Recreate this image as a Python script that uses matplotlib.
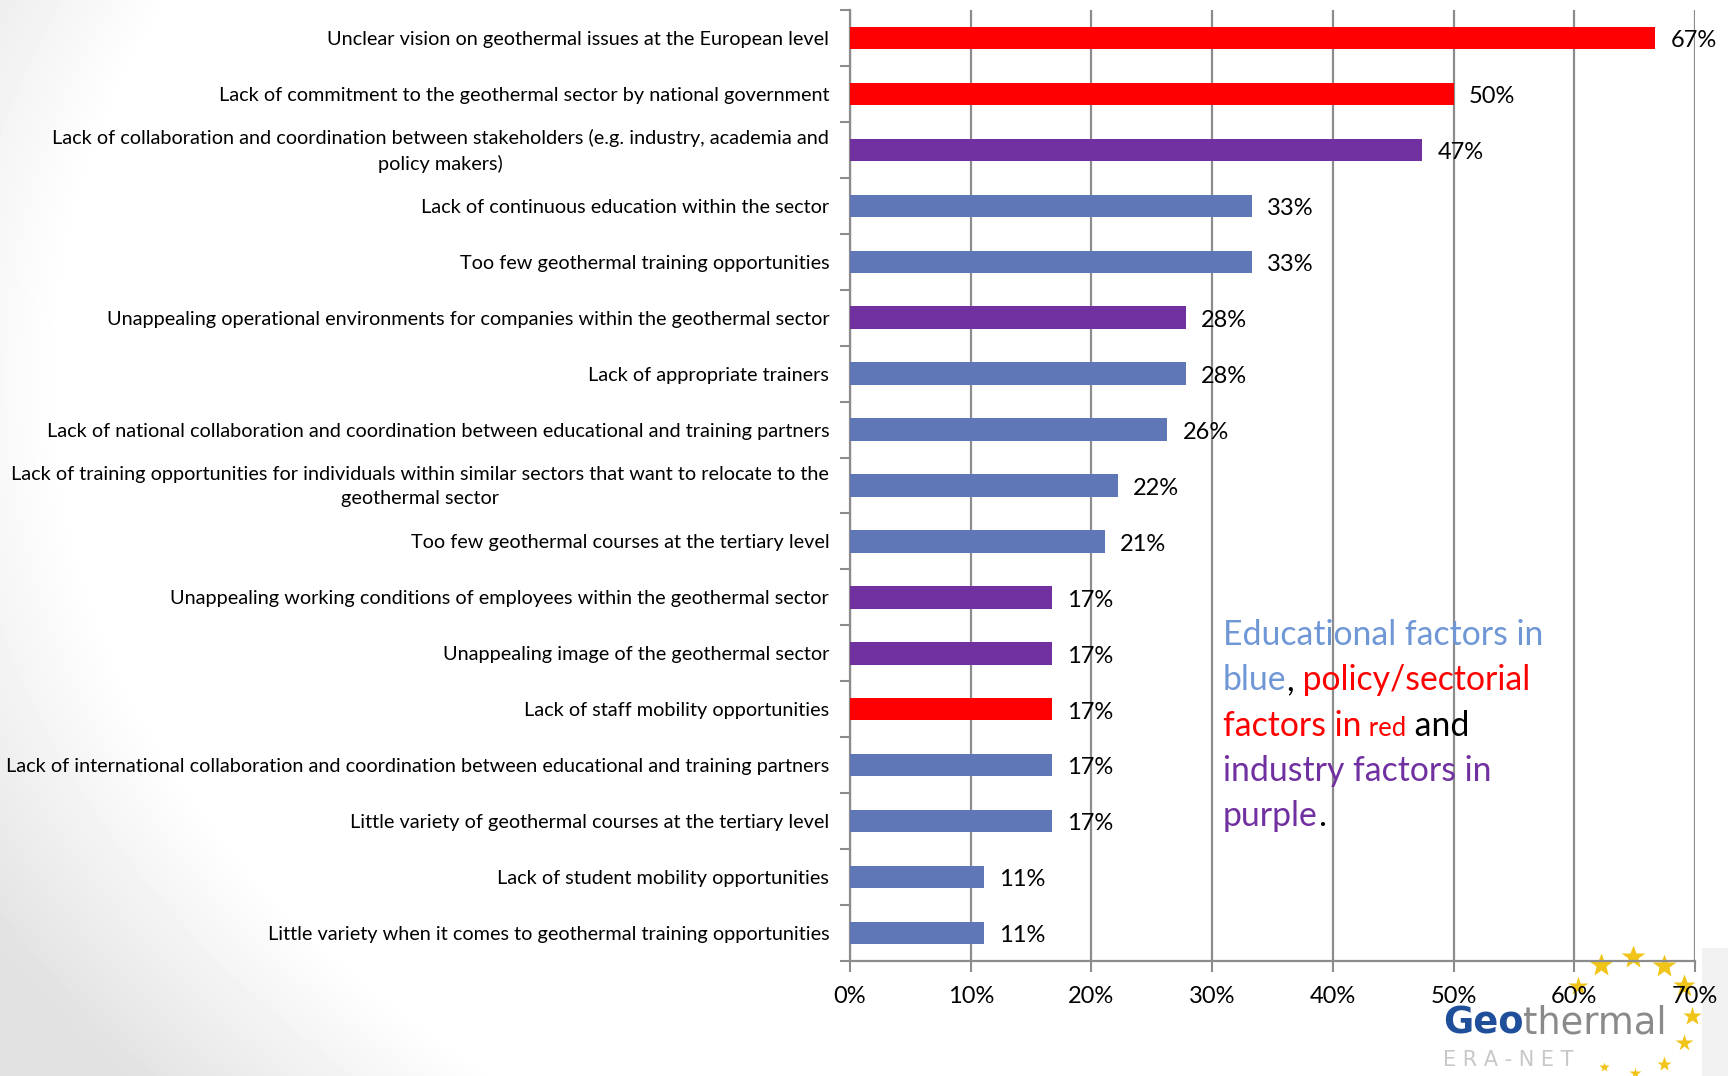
import numpy as np
import matplotlib
matplotlib.use("Agg")
import matplotlib.pyplot as plt
from matplotlib.patches import Rectangle
from matplotlib.offsetbox import TextArea, HPacker, AnnotationBbox
import matplotlib.transforms as mtransforms

# survey answers, top to bottom
categories = [
    "Unclear vision on geothermal issues at the European level",
    "Lack of commitment to the geothermal sector by national government",
    "Lack of collaboration and coordination between stakeholders (e.g. industry, academia and\npolicy makers)",
    "Lack of continuous education within the sector",
    "Too few geothermal training opportunities",
    "Unappealing operational environments for companies within the geothermal sector",
    "Lack of appropriate trainers",
    "Lack of national collaboration and coordination between educational and training partners",
    "Lack of training opportunities for individuals within similar sectors that want to relocate to the\ngeothermal sector",
    "Too few geothermal courses at the tertiary level",
    "Unappealing working conditions of employees within the geothermal sector",
    "Unappealing image of the geothermal sector",
    "Lack of staff mobility opportunities",
    "Lack of international collaboration and coordination between educational and training partners",
    "Little variety of geothermal courses at the tertiary level",
    "Lack of student mobility opportunities",
    "Little variety when it comes to geothermal training opportunities",
]
shares = [66.7, 50.0, 47.4, 33.3, 33.3, 27.8, 27.8, 26.3, 22.2, 21.1,
          16.7, 16.7, 16.7, 16.7, 16.7, 11.1, 11.1]
factor_type = ["policy", "policy", "industry", "education", "education",
               "industry", "education", "education", "education", "education",
               "industry", "industry", "policy", "education", "education",
               "education", "education"]
x_ticks = [0, 10, 20, 30, 40, 50, 60, 70]

bar_colours = {"policy": "#ff0000", "industry": "#7030a0", "education": "#6077b7"}
grey = "#8c8c8c"

plt.rcParams['font.family'] = ['Lato', 'DejaVu Sans']

W, H = 1728, 1076
fig = plt.figure(figsize=(W / 100, H / 100), dpi=100)

# slide background: white centre, grey towards the left corners
bg = fig.add_axes([0, 0, 1, 1], zorder=-10)
yy, xx = np.mgrid[0:H, 0:W]
d = np.sqrt(((xx - 1300) / 1280.0) ** 2 + ((yy - 380) / 935.0) ** 2)
shade = 1 - 0.12 * np.clip((d - 0.97) / 0.22, 0, 1)
bg.imshow(shade, cmap='gray', vmin=0, vmax=1, extent=(0, W, H, 0),
          aspect='auto', interpolation='bilinear')
bg.add_patch(Rectangle((1702, 948), 26, 128, color='#f2f2f2', lw=0))

# logo stars on an arc
star_angles = np.radians([150, 120, 88, 57, 30, -1, -29, -57, -86, -116])
star_sizes = [15, 18, 18, 18, 17, 14, 13, 11, 9, 7]
sx = 1631 + 61 * np.cos(star_angles)
sy = 1015 - 58 * np.sin(star_angles)
for xs, ys, ms in zip(sx, sy, star_sizes):
    bg.plot(xs, ys, marker='*', ms=ms, color='#f0c419', mec='none')
bg.set_xlim(0, W)
bg.set_ylim(H, 0)
bg.axis('off')

ax = fig.add_axes([850 / W, (H - 961) / H, 845 / W, 951 / H])
ax.patch.set_alpha(0)
y = np.arange(len(categories))
ax.barh(y, shares, height=0.4, color=[bar_colours[t] for t in factor_type], zorder=3)
ax.set_xlim(0, 70)
ax.set_ylim(len(categories) - 0.5, -0.5)

ax.set_xticks(x_ticks)
ax.set_xticklabels([f"{t}%" for t in x_ticks])
ax.set_yticks(y)
ax.set_yticklabels(categories, multialignment='center', linespacing=1.5)
ax.set_yticks(np.arange(-0.5, len(categories)), minor=True)
ax.tick_params(axis='y', which='major', length=0, pad=15, labelsize=14.3)
ax.tick_params(axis='y', which='minor', length=7, width=1.5, color=grey)
ax.tick_params(axis='x', length=8, width=1.5, color=grey, pad=10, labelsize=17)
ax.grid(axis='x', color=grey, lw=1.6, zorder=0)
ax.set_axisbelow(True)
for s in ['top', 'right']:
    ax.spines[s].set_visible(False)
for s in ['left', 'bottom']:
    ax.spines[s].set_color(grey)
    ax.spines[s].set_linewidth(1.6)

# two-line labels sit a little high
lift = mtransforms.ScaledTranslation(0, 4 / 100, fig.dpi_scale_trans)
for lbl in ax.get_yticklabels():
    if "\n" in lbl.get_text():
        lbl.set_transform(lbl.get_transform() + lift)

for yi, v in zip(y, shares):
    ax.annotate(f"{v:.0f}%", xy=(v, yi), xytext=(11, -2), textcoords='offset points',
                va='center', ha='left', fontsize=17, zorder=5)


def text_row(parts, x, baseline, family='Lato', descent=6):
    boxes = [TextArea(s, textprops=dict(color=c, fontsize=fs, family=family, fontweight=fw))
             for s, c, fs, fw in parts]
    row = HPacker(children=boxes, align='baseline', pad=0, sep=0)
    ab = AnnotationBbox(row, (x, H - baseline - descent), xycoords='figure pixels',
                        box_alignment=(0, 0), frameon=False, pad=0)
    fig.add_artist(ab)


blue_t, red_t, purple_t, black_t = "#6f97d6", "#ff0000", "#7030a0", "black"
fs = 24.3
legend_lines = [
    [("Educational factors in", blue_t, fs, 'normal')],
    [("blue", blue_t, fs, 'normal'), (",", black_t, fs, 'normal'),
     (" policy/sectorial", red_t, fs, 'normal')],
    [("factors in", red_t, fs, 'normal'), (" red", red_t, 18.5, 'normal'),
     (" and", black_t, fs, 'normal')],
    [("industry factors in", purple_t, fs, 'normal')],
    [("purple", purple_t, fs, 'normal'), (".", black_t, fs, 'normal')],
]
for i, parts in enumerate(legend_lines):
    text_row(parts, 1223, 644 + i * 45.3, descent=7)

# logo lettering
text_row([("Geo", "#1f4e9a", 26.5, 'bold'), ("thermal", "#8a8a8a", 26.5, 'normal')],
         1443, 1026, family='DejaVu Sans', descent=16)
fig.text(1443 / W, 1 - 1060 / H, "E R A - N E T", color="#c8c8c8", fontsize=15,
         family='DejaVu Sans', va='center', ha='left')

fig.savefig("out.png", dpi=100)
